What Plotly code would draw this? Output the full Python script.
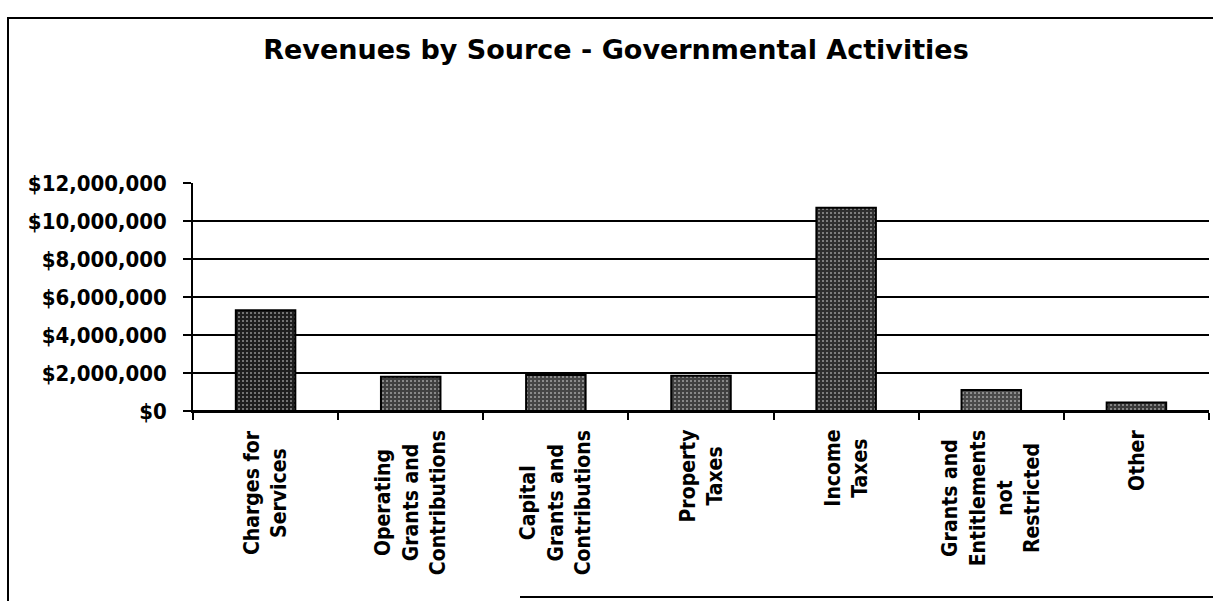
import plotly.graph_objects as go

categories = [
    "Charges for Services",
    "Operating Grants and Contributions",
    "Capital Grants and Contributions",
    "Property Taxes",
    "Income Taxes",
    "Grants and Entitlements not Restricted",
    "Other",
]
category_labels = [
    "Charges for<br>Services",
    "Operating<br>Grants and<br>Contributions",
    "Capital<br>Grants and<br>Contributions",
    "Property<br>Taxes",
    "Income<br>Taxes",
    "Grants and<br>Entitlements<br>not<br>Restricted",
    "Other",
]
revenues = [5300000, 1800000, 1900000, 1850000, 10700000, 1100000, 450000]
bar_colors = ["#1e1e1e", "#404040", "#454545", "#404040", "#2e2e2e", "#4a4a4a", "#3a3a3a"]

y_tick_values = [0, 2000000, 4000000, 6000000, 8000000, 10000000, 12000000]
y_tick_labels = ["$0", "$2,000,000", "$4,000,000", "$6,000,000", "$8,000,000", "$10,000,000", "$12,000,000"]

title_text = "Revenues by Source - Governmental Activities"

W, H = 1217, 601
L, R, T, B = 193, 8, 183, 190
pw = W - L - R
ph = H - T - B

LABEL_FONT = "DejaVu Sans Condensed, DejaVu Sans"


def px(x):
    return (x - L) / pw


def py(y):
    return (H - B - y) / ph


fig = go.Figure()
fig.add_trace(go.Bar(
    x=categories,
    y=revenues,
    marker=dict(
        color=bar_colors,
        line=dict(color="#000000", width=2),
        pattern=dict(shape=".", fgcolor="#a0a0a0", size=4, solidity=0.2, fillmode="overlay"),
    ),
    showlegend=False,
))

for cat, lab in zip(categories, category_labels):
    fig.add_annotation(
        x=cat, xref="x", y=py(429), yref="paper",
        text="<b>" + lab + "</b>", textangle=-90, showarrow=False,
        align="center", xanchor="center", yanchor="top",
        font=dict(family=LABEL_FONT, size=21, color="#000000"),
        borderpad=0,
    )

fig.update_layout(
    width=W,
    height=H,
    margin=dict(l=L, r=R, t=T, b=B, pad=0),
    paper_bgcolor="white",
    plot_bgcolor="white",
    bargap=0.59,
    font=dict(family=LABEL_FONT, size=22, color="#000000"),
    title=dict(
        text="<b>" + title_text + "</b>",
        x=616 / W, xref="container", xanchor="center",
        y=1 - 50 / H, yref="container", yanchor="middle",
        font=dict(family="DejaVu Sans", size=27, color="#000000"),
    ),
    xaxis=dict(
        tickson="boundaries",
        ticks="outside",
        ticklen=7,
        tickwidth=2,
        tickcolor="#000000",
        showline=True,
        linecolor="#000000",
        linewidth=2,
        showgrid=False,
        showticklabels=False,
    ),
    yaxis=dict(
        range=[0, 12000000],
        tickvals=y_tick_values,
        ticktext=["<b>" + t + "</b>" for t in y_tick_labels],
        ticks="outside",
        ticklen=8,
        tickwidth=1.5,
        tickcolor="#000000",
        showline=True,
        linecolor="#000000",
        linewidth=1.5,
        showgrid=True,
        gridcolor="#000000",
        gridwidth=1.5,
        zeroline=True,
        zerolinecolor="#000000",
        zerolinewidth=2,
        tickfont=dict(family=LABEL_FONT, size=22, color="#000000"),
        ticklabelstandoff=12,
    ),
)

# Outer frame of the scanned chart
frame_line = dict(color="#000000", width=2)
fig.add_shape(type="line", xref="paper", yref="paper",
              x0=px(7), x1=px(1213), y0=py(18), y1=py(18), line=frame_line)
fig.add_shape(type="line", xref="paper", yref="paper",
              x0=px(8), x1=px(8), y0=py(18), y1=py(601), line=frame_line)
fig.add_shape(type="line", xref="paper", yref="paper",
              x0=px(520), x1=px(1213), y0=py(597), y1=py(597), line=frame_line)

fig.write_html("out.html")
